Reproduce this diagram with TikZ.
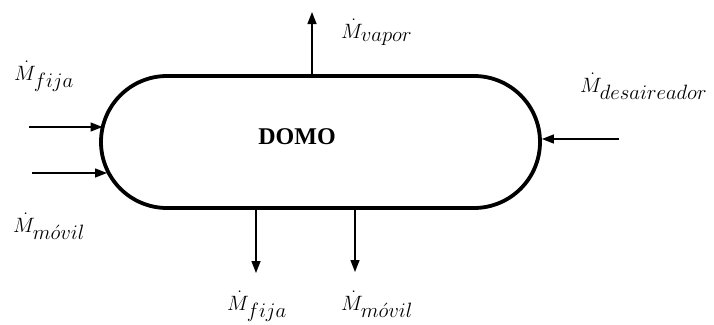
\documentclass[tikz,border=0pt]{standalone}
\usepackage{fontspec}
\setmainfont{Liberation Serif}
\usetikzlibrary{arrows.meta,shapes.misc}
\tikzset{
  arr/.style={line width=1.4pt,-{Triangle[length=12pt,width=9pt]}},
  lab/.style={anchor=base west,inner sep=0pt,font=\fontsize{21.5}{22}\selectfont},
  tank/.style={rounded rectangle,draw,line width=3.8pt,minimum width=439pt,minimum height=132pt,inner sep=0pt}
}
\newcommand{\mflow}[1]{$\dot{M}_{\textstyle #1}$}
\begin{document}
\begin{tikzpicture}[x=1pt,y=-1pt]
\useasboundingbox (0,0) rectangle (714,324);
\node[tank] (domo) at (320.5,142) {};
\node[font=\fontsize{24}{24}\selectfont\bfseries] (t) at (297,137) {DOMO};
% left inputs
\coordinate (l1s) at (29,127);
\coordinate (l1e) at (102.5,127);
\coordinate (l2s) at (32,173);
\coordinate (l2e) at (107,173);
\draw[arr] (l1s) -- (l1e);
\draw[arr] (l2s) -- (l2e);
% right input
\coordinate (rs) at (619,139);
\draw[arr] (rs) -- (rs -| domo.east);
% vapor
\coordinate (vx) at (312,12);
\draw[arr] (vx |- domo.north) -- (vx);
% bottom outputs
\coordinate (b1) at (256,273);
\coordinate (b2) at (355,272);
\draw[arr] (b1 |- domo.south) -- (b1);
\draw[arr] (b2 |- domo.south) -- (b2);
% labels
\node[lab] (Lf) at (14,80) {\mflow{fija}};
\node[lab] (Lm) at (13,232) {\mflow{m\acute{o}vil}};
\node[lab] (Lv) at (341,38) {\mflow{vapor}};
\node[lab] (Ld) at (580,92) {\mflow{desaireador}};
\node[lab] (Bf) at (227,310) {\mflow{fija}};
\node[lab] (Bm) at (341,310) {\mflow{m\acute{o}vil}};
\end{tikzpicture}
\end{document}
